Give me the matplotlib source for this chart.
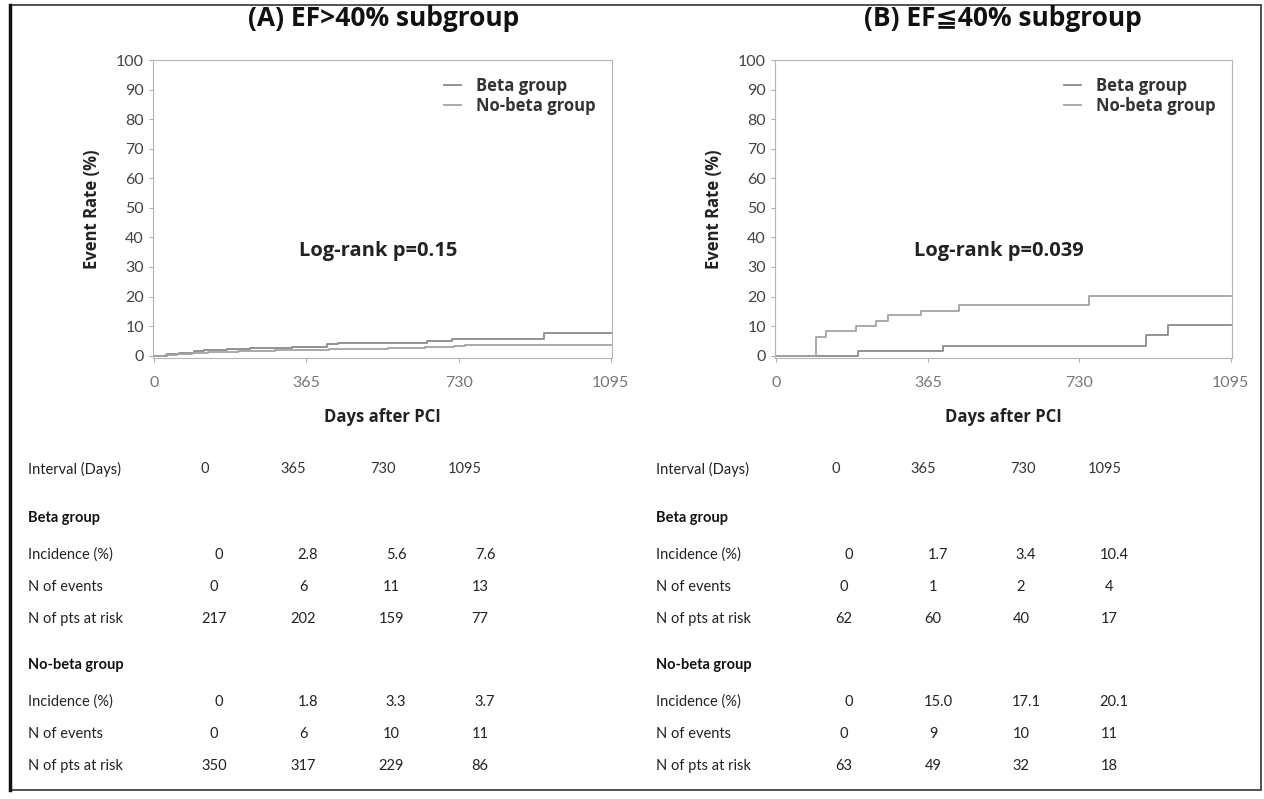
import matplotlib
matplotlib.use("Agg")
import matplotlib.pyplot as plt
from matplotlib.lines import Line2D
from matplotlib.patches import Rectangle

# ---- data ----
days_ticks = [0, 365, 730, 1095]

# (A) EF>40% subgroup, cumulative event rate (%) step curves
a_beta_t = [0, 30, 60, 95, 120, 175, 230, 300, 330, 415, 440, 655, 715, 935]
a_beta_y = [0, 0.5, 0.9, 1.4, 1.8, 2.3, 2.5, 2.6, 2.8, 3.8, 4.3, 4.8, 5.6, 7.6]
a_nobeta_t = [0, 25, 55, 90, 130, 200, 290, 420, 470, 560, 650, 720, 745]
a_nobeta_y = [0, 0.3, 0.6, 0.9, 1.2, 1.5, 1.8, 2.1, 2.4, 2.7, 3.0, 3.3, 3.7]

# (B) EF<=40% subgroup
b_beta_t = [0, 197, 401, 890, 943]
b_beta_y = [0, 1.7, 3.4, 6.9, 10.4]
b_nobeta_t = [0, 96, 120, 193, 241, 269, 349, 441, 754]
b_nobeta_y = [0, 6.4, 8.2, 10.0, 11.6, 13.6, 15.0, 17.1, 20.1]

titles = ["(A) EF>40% subgroup", "(B) EF\u226640% subgroup"]
pvals = ["Log-rank p=0.15", "Log-rank p=0.039"]

# tables under the plots
a_beta_inc = ["0", "2.8", "5.6", "7.6"]
a_beta_ev = ["0", "6", "11", "13"]
a_beta_risk = ["217", "202", "159", "77"]
a_nobeta_inc = ["0", "1.8", "3.3", "3.7"]
a_nobeta_ev = ["0", "6", "10", "11"]
a_nobeta_risk = ["350", "317", "229", "86"]

b_beta_inc = ["0", "1.7", "3.4", "10.4"]
b_beta_ev = ["0", "1", "2", "4"]
b_beta_risk = ["62", "60", "40", "17"]
b_nobeta_inc = ["0", "15.0", "17.1", "20.1"]
b_nobeta_ev = ["0", "9", "10", "11"]
b_nobeta_risk = ["63", "49", "32", "18"]

W, H = 1264, 799
fig = plt.figure(figsize=(W / 100, H / 100), dpi=100)
fig.patch.set_facecolor("white")

narrow = ["Lato", "DejaVu Sans"]
boldf = ["Open Sans", "DejaVu Sans"]

def fx(px):
    return px / W

def fy(py):
    return 1 - py / H

beta_col = "#8a8a8a"
nobeta_col = "#a2a2a2"

panels = [
    dict(left=153, right=612, cx=384, curves=((a_beta_t, a_beta_y), (a_nobeta_t, a_nobeta_y))),
    dict(left=775, right=1232, cx=1003, curves=((b_beta_t, b_beta_y), (b_nobeta_t, b_nobeta_y))),
]

for i, p in enumerate(panels):
    ax = fig.add_axes([fx(p["left"]), fy(358), fx(p["right"] - p["left"]), (358 - 60) / H])
    (bt, by), (nt, ny) = p["curves"]
    ax.step(bt + [1095], by + [by[-1]], where="post", color=beta_col, lw=1.3, label="Beta group")
    ax.step(nt + [1095], ny + [ny[-1]], where="post", color=nobeta_col, lw=1.3, label="No-beta group")
    ax.set_xlim(-3, 1098)
    ax.set_ylim(-0.8, 100)
    ax.set_xticks(days_ticks)
    ax.set_yticks(range(0, 101, 10))
    for s in ax.spines.values():
        s.set_color("#b5b5b5")
        s.set_linewidth(0.8)
        s.set_linestyle((0, (1, 1)))
    ax.tick_params(colors="#aaaaaa", length=3, width=0.7, labelsize=11.5)
    ax.tick_params(axis="x", pad=10)
    for lab in ax.get_xticklabels():
        lab.set_color("#777777")
        lab.set_family(narrow)
    for lab in ax.get_yticklabels():
        lab.set_color("#444444")
        lab.set_family(narrow)
    ax.set_xlabel("Days after PCI", fontsize=12, fontweight="bold", family=boldf, labelpad=13, color="#222222")
    ax.set_ylabel("Event Rate (%)", fontsize=12, fontweight="bold", family=boldf, labelpad=11, color="#222222")
    ax.text(0.49, 0.36, pvals[i], transform=ax.transAxes, ha="center", va="center",
            fontsize=14.5, fontweight="bold", family=boldf, color="#222222")
    leg = ax.legend(loc="upper right", frameon=False, handlelength=1.0,
                    handletextpad=0.9, labelspacing=0.15, borderaxespad=0.6,
                    prop=dict(family=boldf, weight="bold", size=12))
    for t in leg.get_texts():
        t.set_color("#333333")
    fig.text(fx(p["cx"]), fy(19), titles[i], ha="center", va="center",
             fontsize=19, fontweight="bold", family=boldf, color="#111111")

# ---- tables ----
tables = [
    dict(lx=28, hdr_x=[205, 293, 383, 465], col_x=[214, 303, 391, 480],
         beta=(a_beta_inc, a_beta_ev, a_beta_risk), nobeta=(a_nobeta_inc, a_nobeta_ev, a_nobeta_risk)),
    dict(lx=656, hdr_x=[836, 923, 1023, 1105], col_x=[844, 933, 1021, 1109],
         beta=(b_beta_inc, b_beta_ev, b_beta_risk), nobeta=(b_nobeta_inc, b_nobeta_ev, b_nobeta_risk)),
]
row_names = ["Incidence (%)", "N of events", "N of pts at risk"]
tsize = 10.5

for tb in tables:
    fig.text(fx(tb["lx"]), fy(469), "Interval (Days)", ha="left", va="center", fontsize=tsize, family=narrow, color="#222222")
    for x, d in zip(tb["hdr_x"], days_ticks):
        fig.text(fx(x), fy(469), str(d), ha="center", va="center", fontsize=tsize, family=narrow, color="#333333")
    for grp, gname, y0 in ((tb["beta"], "Beta group", 518), (tb["nobeta"], "No-beta group", 665)):
        fig.text(fx(tb["lx"]), fy(y0), gname, ha="left", va="center", fontsize=tsize,
                 fontweight="bold", family=narrow, color="#111111")
        for k, (rname, vals) in enumerate(zip(row_names, grp)):
            yy = y0 + 37 + k * 32
            fig.text(fx(tb["lx"]), fy(yy), rname, ha="left", va="center", fontsize=tsize, family=narrow, color="#222222")
            for x, v in zip(tb["col_x"], vals):
                off = 5 if k == 0 else 0
                fig.text(fx(x + off), fy(yy), v, ha="center", va="center", fontsize=tsize, family=narrow, color="#222222")

# outer frame
fig.add_artist(Rectangle((fx(10), fy(790)), fx(1251), (790 - 5) / H, transform=fig.transFigure,
                         fill=False, edgecolor="#333333", lw=1.2))
fig.add_artist(Line2D([fx(10), fx(10)], [fy(5), fy(790)], transform=fig.transFigure, color="#111111", lw=2.5))

fig.savefig("out.png", dpi=100)
